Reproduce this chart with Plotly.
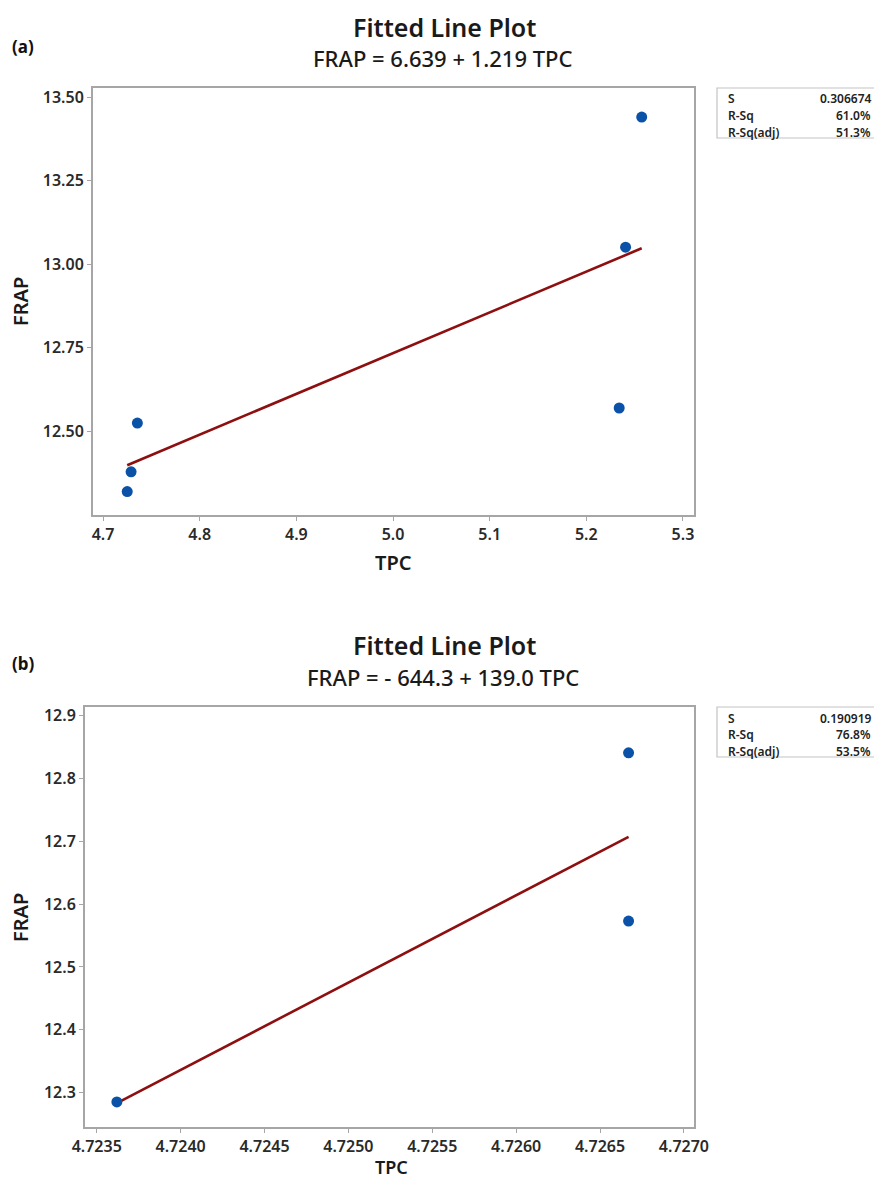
import plotly.graph_objects as go
import numpy as np

# ---- data ----
tpc_a = [4.725, 4.729, 4.7355, 5.234, 5.2406, 5.2573]
frap_a = [12.32, 12.379, 12.525, 12.57, 13.051, 13.44]
coef_a = [6.639, 1.219]
stats_a_labels = ["S", "R-Sq", "R-Sq(adj)"]
stats_a_values = ["0.306674", "61.0%", "51.3%"]
xticks_a = [4.7, 4.8, 4.9, 5.0, 5.1, 5.2, 5.3]
yticks_a = [12.50, 12.75, 13.00, 13.25, 13.50]

tpc_b = [4.72362, 4.72667, 4.72667]
frap_b = [12.285, 12.841, 12.573]
coef_b = [-644.3, 139.0]
stats_b_labels = ["S", "R-Sq", "R-Sq(adj)"]
stats_b_values = ["0.190919", "76.8%", "53.5%"]
xticks_b = [4.7235, 4.7240, 4.7245, 4.7250, 4.7255, 4.7260, 4.7265, 4.7270]
yticks_b = [12.3, 12.4, 12.5, 12.6, 12.7, 12.8, 12.9]

# page body has an 8px margin on every side, so the figure fills the rest
OFF = 8
W, H = 882 - 2 * OFF, 1188 - 2 * OFF
FONT = "Noto Sans"
POINT_COLOR = "#0a52a8"
LINE_COLOR = "#8e0f0f"
FRAME = "#a6a6a6"
TXT = "#2a2a2a"

def px_x(p):
    return (p - OFF) / W

def px_y(p):
    return 1 - (p - OFF) / H

fig = go.Figure()

# fitted lines (from the equations printed on the chart)
xa = np.array([min(tpc_a), max(tpc_a)])
fig.add_trace(go.Scatter(x=xa, y=coef_a[0] + coef_a[1] * xa, mode="lines",
                         line=dict(color=LINE_COLOR, width=2.6),
                         xaxis="x", yaxis="y", showlegend=False))
fig.add_trace(go.Scatter(x=tpc_a, y=frap_a, mode="markers",
                         marker=dict(color=POINT_COLOR, size=11),
                         xaxis="x", yaxis="y", showlegend=False))

xb = np.array([min(tpc_b), max(tpc_b)])
fig.add_trace(go.Scatter(x=xb, y=coef_b[0] + coef_b[1] * xb, mode="lines",
                         line=dict(color=LINE_COLOR, width=2.6),
                         xaxis="x2", yaxis="y2", showlegend=False))
fig.add_trace(go.Scatter(x=tpc_b, y=frap_b, mode="markers",
                         marker=dict(color=POINT_COLOR, size=11),
                         xaxis="x2", yaxis="y2", showlegend=False))

axis_common = dict(showline=True, linecolor=FRAME, linewidth=2, mirror=True,
                   showgrid=False, zeroline=False, ticks="outside", ticklen=4,
                   tickcolor=FRAME, tickwidth=1, automargin=False,
                   tickfont=dict(family=FONT, size=16, color=TXT, weight=600))

fig.update_layout(
    width=W, height=H,
    margin=dict(l=0, r=0, t=0, b=0),
    paper_bgcolor="white", plot_bgcolor="white",
    xaxis=dict(domain=[px_x(93), px_x(694)], anchor="y",
               range=[4.6896, 5.3114], tickvals=xticks_a,
               ticktext=[f"{v:.1f}" for v in xticks_a], **axis_common),
    yaxis=dict(domain=[px_y(515), px_y(88)], anchor="x",
               range=[12.25, 13.527], tickvals=yticks_a,
               ticktext=[f"{v:.2f}" for v in yticks_a], **axis_common),
    xaxis2=dict(domain=[px_x(85), px_x(694)], anchor="y2",
                range=[4.72343, 4.72706], tickvals=xticks_b,
                ticktext=[f"{v:.4f}" for v in xticks_b], **axis_common),
    yaxis2=dict(domain=[px_y(1127), px_y(707)], anchor="x2",
                range=[12.245, 12.914], tickvals=yticks_b,
                ticktext=[f"{v:.1f}" for v in yticks_b], **axis_common),
)

annotations = []
shapes = []

def add_text(text, x, y, size, weight=600, xanchor="center", angle=0, color=TXT):
    annotations.append(dict(text=text,
                            x=px_x(x), y=px_y(y), xref="paper", yref="paper",
                            showarrow=False, xanchor=xanchor, yanchor="middle",
                            textangle=angle,
                            font=dict(family=FONT, size=size, color=color, weight=weight)))

def fmt_eq(c):
    b0, b1 = c
    if b0 < 0:
        return f"FRAP = - {abs(b0):.1f} + {b1:.1f} TPC"
    return f"FRAP = {b0:.3f} + {b1:.3f} TPC"

# panel (a)
add_text("(a)", 10, 46, 17, weight=700, xanchor="left", color="#111111")
add_text("Fitted Line Plot", 444, 27, 25, color="#1a1a1a")
add_text(fmt_eq(coef_a), 443, 58, 22, weight=500, color="#1a1a1a")
add_text("FRAP", 20, 302, 20, angle=-90, color="#1a1a1a")
add_text("TPC", 393, 562, 20, color="#1a1a1a")

# panel (b)
add_text("(b)", 10, 663, 17, weight=700, xanchor="left", color="#111111")
add_text("Fitted Line Plot", 444, 645, 25, color="#1a1a1a")
add_text(fmt_eq(coef_b), 443, 677, 22, weight=500, color="#1a1a1a")
add_text("FRAP", 20, 918, 20, angle=-90, color="#1a1a1a")
add_text("TPC", 391, 1167, 18, color="#1a1a1a")

# stats boxes (clipped by the right edge, as in the reference)
for top, labels, values in [(88, stats_a_labels, stats_a_values),
                            (707, stats_b_labels, stats_b_values)]:
    shapes.append(dict(type="rect", xref="paper", yref="paper",
                       x0=px_x(717), x1=px_x(880), y0=px_y(top + 50), y1=px_y(top),
                       line=dict(color="#c4c4c4", width=1.2), fillcolor="white"))
    for i, (lab, val) in enumerate(zip(labels, values)):
        yy = top + 11 + i * 16.5
        add_text(lab, 726, yy, 12, xanchor="left", color="#222222")
        add_text(val, 873, yy, 12, xanchor="right", color="#222222")

fig.update_layout(annotations=annotations, shapes=shapes)

fig.write_html("out.html")
